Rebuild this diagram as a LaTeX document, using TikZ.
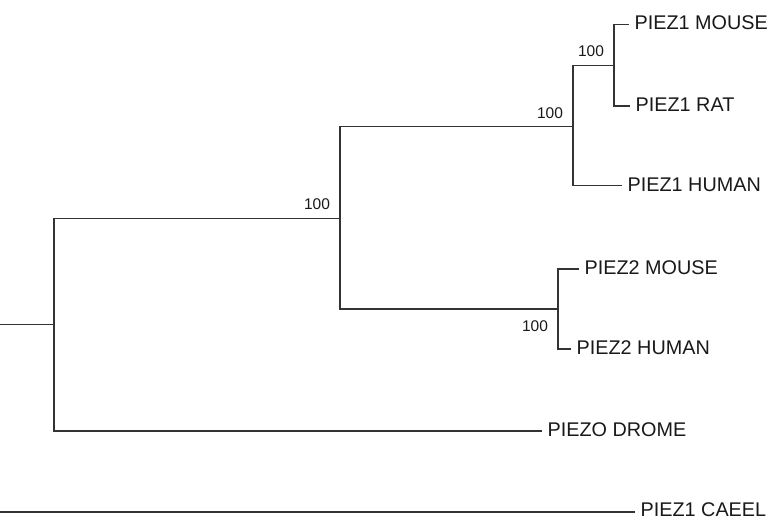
\documentclass[tikz,border=0pt]{standalone}
\usepackage{fontspec}
\setmainfont{Liberation Sans}
\begin{document}
\begin{tikzpicture}[x=1pt,y=-1pt,
  branch/.style={draw=black!80, line width=1.3pt},
  leaf/.style={anchor=west, inner xsep=5.5pt, inner ysep=0pt, text height=14pt, text depth=3pt, font=\fontsize{19.8}{20}\selectfont, text=black!90},
  support/.style={inner sep=0pt, text height=11pt, text depth=0pt, font=\fontsize{15.5}{16}\selectfont, text=black!90}]
\useasboundingbox (0,0) rectangle (769,519);
% internal nodes
\coordinate (r) at (0,324.5);
\coordinate (n0) at (54,324.5);
\coordinate (n1) at (340,218.5);
\coordinate (n2) at (573,126.5);
\coordinate (n3) at (614,65.5);
\coordinate (n4) at (558,309);
\coordinate (c0) at (0,512);
% leaves
\node[leaf] (m1) at (629,24.5) {PIEZ1 MOUSE};
\node[leaf] (r1) at (630,106) {PIEZ1 RAT};
\node[leaf] (h1) at (622,185.5) {PIEZ1 HUMAN};
\node[leaf] (m2) at (579,269) {PIEZ2 MOUSE};
\node[leaf] (h2) at (571,349) {PIEZ2 HUMAN};
\node[leaf] (dr) at (542,431) {PIEZO DROME};
\node[leaf, text height=13pt, text depth=1.5pt] (ce) at (635,510.5) {PIEZ1 CAEEL};
% support values
\node[support] (s1) at (317,204) {100};
\node[support] (s2) at (550,112.5) {100};
\node[support] (s3) at (591,51.5) {100};
\node[support] (s4) at (535,326) {100};
% branches
\draw[branch] (r) -- (n0);
\draw[branch] (n0) |- (n1);
\draw[branch] (n0) |- (dr.west);
\draw[branch] (n1) |- (n2);
\draw[branch] (n1) |- (n4);
\draw[branch] (n2) |- (n3);
\draw[branch] (n2) |- (h1.west);
\draw[branch] (n3) |- (m1.west);
\draw[branch] (n3) |- (r1.west);
\draw[branch] (n4) |- (m2.west);
\draw[branch] (n4) |- (h2.west);
\draw[branch] (c0) -- (c0 -| ce.west);
\end{tikzpicture}
\end{document}
